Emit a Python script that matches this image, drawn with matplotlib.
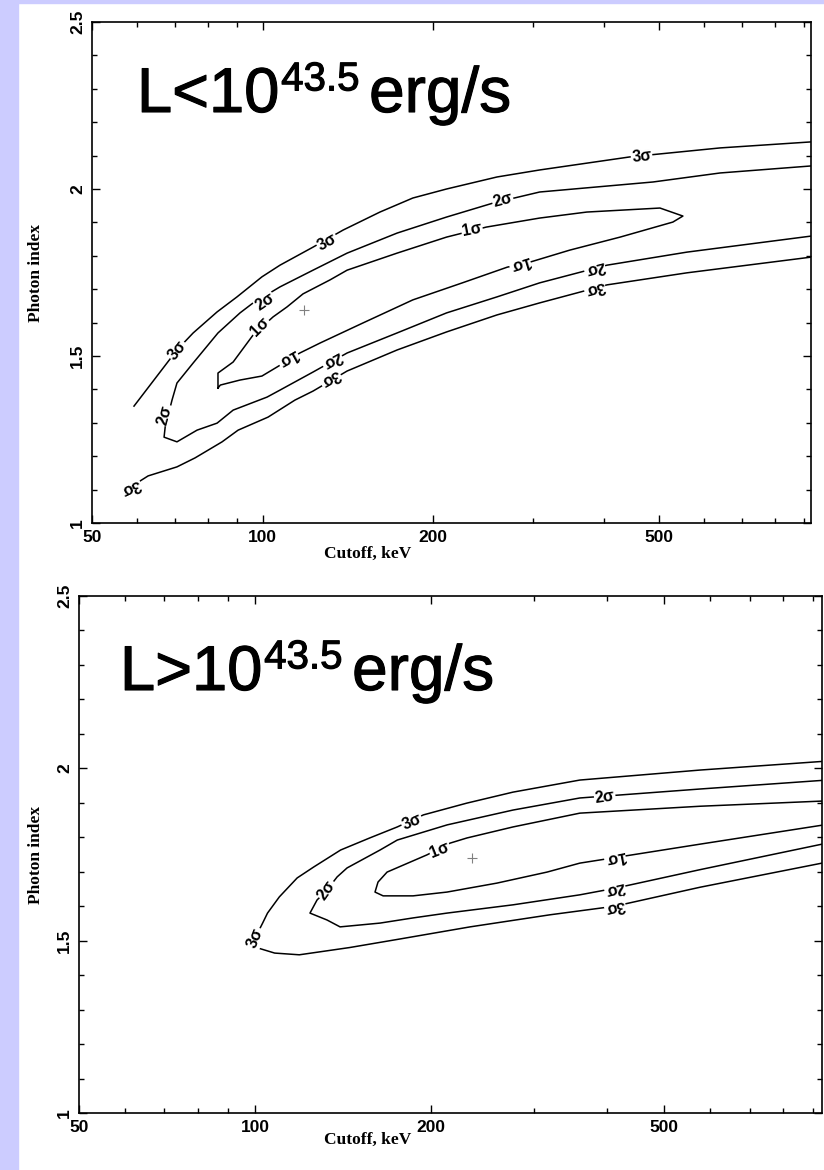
import matplotlib.pyplot as plt
import matplotlib.patheffects as pe
from matplotlib.patches import Rectangle
from matplotlib.ticker import NullFormatter

# ------------------------------
# contour data (cutoff keV, photon index)
# ------------------------------
# panel 1 : L < 10^43.5 erg/s
lo_3s_upper_x = [59.3, 70.6, 75.4, 83.1, 90.1, 99.7, 107.3, 122.7, 138.6, 161, 184, 211, 259, 308, 444, 641, 927]
lo_3s_upper_y = [1.350, 1.518, 1.569, 1.632, 1.677, 1.737, 1.772, 1.826, 1.877, 1.931, 1.973, 2.000, 2.036, 2.057, 2.096, 2.123, 2.141]

lo_3s_lower_x = [58.5, 62.8, 70.6, 76.0, 84.8, 90.5, 102.2, 114, 122.7, 140.9, 172.6, 211, 259, 308, 405, 560, 927]
lo_3s_lower_y = [1.108, 1.141, 1.168, 1.195, 1.243, 1.278, 1.317, 1.368, 1.395, 1.455, 1.518, 1.572, 1.623, 1.659, 1.713, 1.749, 1.796]

lo_2s_x = [927, 641, 488, 308, 255, 211, 172.6, 140.9, 122.7, 107.3, 96.2, 91.2, 83.4, 75.4, 70.6, 69.2, 67.3, 67.0,
           70.6, 76.6, 83.1, 88.7, 101.8, 107.3, 122.7, 140.9, 172.6, 211, 259, 308, 405, 560, 927]
lo_2s_y = [2.069, 2.048, 2.021, 1.991, 1.958, 1.916, 1.868, 1.808, 1.757, 1.707, 1.659, 1.629, 1.569, 1.479, 1.419, 1.368, 1.287, 1.257,
           1.243, 1.278, 1.299, 1.338, 1.377, 1.398, 1.452, 1.509, 1.569, 1.629, 1.677, 1.719, 1.772, 1.811, 1.859]

lo_1s_x = [83.4, 83.4, 88.7, 96.2, 104.3, 110.4, 117.8, 131.5, 140.9, 172.6, 211, 248, 308, 373, 502, 551,
           529, 427, 348, 296, 270, 225, 184, 150.3, 126.3, 116.3, 106, 99.7, 91.2, 84.2, 83.4]
lo_1s_y = [1.404, 1.449, 1.482, 1.563, 1.617, 1.647, 1.686, 1.728, 1.757, 1.808, 1.856, 1.886, 1.913, 1.931, 1.943, 1.919,
           1.901, 1.856, 1.817, 1.781, 1.766, 1.719, 1.668, 1.599, 1.539, 1.509, 1.467, 1.440, 1.428, 1.413, 1.404]

lo_best = (118.3, 1.638)

# label text, x, y, rotation
lo_labels = [("3σ", 70.6, 1.518, 51), ("3σ", 130, 1.841, 29), ("3σ", 466, 2.096, 6),
             ("3σ", 58.5, 1.108, 205), ("3σ", 131.5, 1.434, 210), ("3σ", 385, 1.704, 195),
             ("2σ", 101, 1.662, 34), ("2σ", 265, 1.967, 15), ("2σ", 67.3, 1.323, 75),
             ("2σ", 132.5, 1.488, 209), ("2σ", 385, 1.763, 195),
             ("1σ", 99, 1.587, 45), ("1σ", 234, 1.877, 11),
             ("1σ", 110.8, 1.494, 209), ("1σ", 284, 1.778, 197)]

# panel 2 : L > 10^43.5 erg/s
hi_3s_x = [931, 576, 359, 276, 230, 194, 175, 157, 140, 126, 118, 110, 105, 103, 100, 101, 108, 119,
           145, 177, 233, 319, 412, 576, 931]
hi_3s_y = [2.02, 1.995, 1.966, 1.931, 1.899, 1.865, 1.830, 1.798, 1.763, 1.714, 1.682, 1.627, 1.580, 1.551, 1.508, 1.479, 1.464, 1.459,
           1.48, 1.505, 1.54, 1.575, 1.60, 1.655, 1.725]

hi_2s_x = [931, 576, 359, 276, 213, 175, 163.5, 143.6, 138.1, 132.7, 127.6, 124.1, 132.7, 139.7, 163.5, 186.2, 212.8,
           276, 359, 412, 576, 931]
hi_2s_y = [1.965, 1.94, 1.914, 1.879, 1.836, 1.792, 1.763, 1.711, 1.685, 1.647, 1.618, 1.580, 1.560, 1.540, 1.551, 1.566, 1.580,
           1.604, 1.633, 1.652, 1.706, 1.78]

hi_1s_x = [931, 576, 359, 276, 230.2, 215.4, 196.7, 168.1, 162.2, 160.3, 165.5, 186.2, 212.8, 259, 315.5, 359, 412, 576, 931]
hi_1s_y = [1.905, 1.89, 1.870, 1.830, 1.798, 1.783, 1.749, 1.699, 1.670, 1.641, 1.630, 1.630, 1.641, 1.667, 1.699, 1.725, 1.741,
           1.78, 1.835]

hi_best = (235, 1.740)

hi_labels = [("3σ", 185.4, 1.844, 23), ("3σ", 100, 1.508, 68),
             ("2σ", 132.7, 1.647, 55), ("2σ", 396, 1.917, 8),
             ("1σ", 207, 1.763, 22),
             ("1σ", 412, 1.741, 191), ("2σ", 412, 1.652, 193), ("3σ", 412, 1.600, 193)]

x_major = [50, 100, 200, 500]
x_minor = [60, 70, 80, 90, 300, 400, 600, 700, 800, 900]
y_major = [1, 1.5, 2, 2.5]
y_minor = [1.1, 1.2, 1.3, 1.4, 1.6, 1.7, 1.8, 1.9, 2.1, 2.2, 2.3, 2.4]

fig = plt.figure(figsize=(8.24, 11.7), dpi=100)
fig.patches.append(Rectangle((0, 0), 18 / 824, 1, transform=fig.transFigure, color="#ccccff", zorder=0))
fig.patches.append(Rectangle((0, 1 - 3 / 1170), 1, 3 / 1170, transform=fig.transFigure, color="#ccccff", zorder=0))

ax1 = fig.add_axes([92 / 824, 1 - 523 / 1170, 719 / 824, 501 / 1170])
ax2 = fig.add_axes([79 / 824, 1 - 1113 / 1170, 743 / 824, 517 / 1170])


def style_axes(ax, xmax, xlab_x, xlab_y, ylab_x):
    ax.set_xscale("log")
    ax.set_xlim(50, xmax)
    ax.set_ylim(1, 2.5)
    ax.set_xticks(x_major)
    ax.set_xticklabels([str(v) for v in x_major])
    ax.set_xticks(x_minor, minor=True)
    ax.xaxis.set_minor_formatter(NullFormatter())
    ax.set_yticks(y_major)
    ax.set_yticklabels(["1", "1.5", "2", "2.5"])
    ax.set_yticks(y_minor, minor=True)
    ax.tick_params(which="both", direction="in", top=True, right=True, width=1.0, color="black")
    ax.tick_params(which="major", length=6, pad=5)
    ax.tick_params(which="minor", length=3.5)
    for lab in ax.get_xticklabels() + ax.get_yticklabels():
        lab.set_fontfamily("Liberation Sans")
        lab.set_fontweight("bold")
        lab.set_fontsize(12.5)
    for lab in ax.get_yticklabels():
        lab.set_rotation(90)
        lab.set_va("center")
    for sp in ax.spines.values():
        sp.set_linewidth(1.2)
    ax.set_xlabel("Cutoff, keV", family="Liberation Serif", fontweight="bold", fontsize=12.5)
    ax.set_ylabel("Photon index", family="Liberation Serif", fontweight="bold", fontsize=12.5)
    ax.xaxis.set_label_coords(xlab_x, xlab_y)
    ax.yaxis.set_label_coords(ylab_x, 0.5)


def draw_labels(ax, labels):
    for txt, x, y, rot in labels:
        ax.text(x, y, txt, rotation=rot, rotation_mode="anchor", ha="center", va="center",
                fontsize=11.5, family="Liberation Sans", fontweight="bold",
                bbox=dict(facecolor="white", edgecolor="none", pad=0.6), zorder=3)


def big_title(ax, x, y, sign):
    thick = [pe.withStroke(linewidth=0.8, foreground="black")]
    t1 = ax.text(x, y, "L" + sign + "10", transform=ax.transAxes, fontsize=45.5,
                 family="Liberation Sans", ha="left", va="baseline", path_effects=thick)
    t2 = ax.annotate("43.5", xy=(1, 1), xycoords=t1, xytext=(1, 4), textcoords="offset points",
                     fontsize=29, family="Liberation Sans", ha="left", va="top", path_effects=thick)
    ax.annotate("erg/s", xy=(1, 0), xycoords=(t2, t1), xytext=(7, 0), textcoords="offset points",
                fontsize=46, family="Liberation Sans", ha="left", va="bottom", path_effects=thick)


# top panel
for xs, ys in [(lo_3s_upper_x, lo_3s_upper_y), (lo_3s_lower_x, lo_3s_lower_y), (lo_2s_x, lo_2s_y), (lo_1s_x, lo_1s_y)]:
    ax1.plot(xs, ys, color="black", lw=1.1, zorder=2)
ax1.plot(*lo_best, marker="+", color="gray", ms=7, mew=0.8)
draw_labels(ax1, lo_labels)
style_axes(ax1, 927, (368 - 92) / 719, -0.046, -0.067)
big_title(ax1, (137 - 92) / 719, (523 - 112) / 501, "<")

# bottom panel
for xs, ys in [(hi_3s_x, hi_3s_y), (hi_2s_x, hi_2s_y), (hi_1s_x, hi_1s_y)]:
    ax2.plot(xs, ys, color="black", lw=1.1, zorder=2)
ax2.plot(*hi_best, marker="+", color="gray", ms=7, mew=0.8)
draw_labels(ax2, hi_labels)
style_axes(ax2, 931, (368 - 79) / 743, -0.036, -0.047)
big_title(ax2, (120 - 79) / 743, (1113 - 690) / 517, ">")

fig.savefig("out.png", dpi=100, facecolor="white")
